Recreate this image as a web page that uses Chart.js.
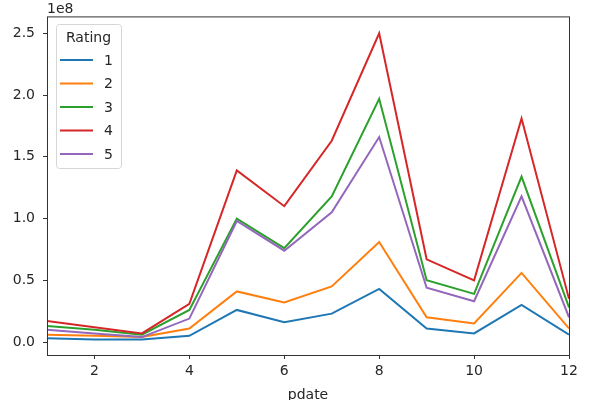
<!DOCTYPE html>
<html>
<head>
<meta charset="utf-8">
<script src="https://cdn.jsdelivr.net/npm/chart.js@4"></script>
<style>
  body { margin: 0; background: #fff; }
  #wrap { width: 600px; height: 400px; }
</style>
</head>
<body>
<div id="wrap"><canvas id="grafica" width="600" height="400"></canvas></div>
<script>
// valores en unidades de 1e8
const pdate = [1, 2, 3, 4, 5, 6, 7, 8, 9, 10, 11, 12];
const rating1 = [0.03, 0.02, 0.02, 0.05, 0.26, 0.16, 0.23, 0.43, 0.11, 0.07, 0.30, 0.06];
const rating2 = [0.06, 0.05, 0.04, 0.11, 0.41, 0.32, 0.45, 0.81, 0.20, 0.15, 0.56, 0.11];
const rating3 = [0.13, 0.10, 0.06, 0.26, 1.00, 0.76, 1.18, 1.97, 0.50, 0.39, 1.34, 0.28];
const rating4 = [0.17, 0.12, 0.07, 0.31, 1.39, 1.10, 1.63, 2.50, 0.67, 0.50, 1.81, 0.35];
const rating5 = [0.10, 0.07, 0.04, 0.19, 0.98, 0.74, 1.05, 1.66, 0.44, 0.33, 1.18, 0.20];
const seriesNames = ['1', '2', '3', '4', '5'];
const xTicks = [2, 4, 6, 8, 10, 12];
const yTicks = [0, 0.5, 1.0, 1.5, 2.0, 2.5];

const colores = ['#1f77b4', '#ff7f0e', '#2ca02c', '#d62728', '#9467bd'];
const todas = [rating1, rating2, rating3, rating4, rating5];
const fuente = 'DejaVu Sans';

const datasets = todas.map(function (serie, i) {
    return {
        label: seriesNames[i],
        data: serie.map(function (v, j) { return { x: pdate[j], y: v }; }),
        borderColor: colores[i],
        borderWidth: 2,
        pointRadius: 0,
        tension: 0,
        fill: false,
        order: todas.length - i
    };
});

// marco, leyenda, offset y etiqueta del eje x
const extras = {
    id: 'extras',
    afterDraw: function (chart) {
        const c = chart.ctx;
        const a = chart.chartArea;
        c.save();
        c.strokeStyle = '#333';
        c.lineWidth = 1;
        c.strokeRect(a.left + 0.5, a.top + 0.5, a.right - a.left, a.bottom - a.top);

        c.fillStyle = '#262626';
        c.font = '14px "' + fuente + '"';
        c.textAlign = 'left';
        c.textBaseline = 'alphabetic';
        c.fillText('1e8', a.left, a.top - 3);

        c.textAlign = 'center';
        c.textBaseline = 'middle';
        c.fillText('pdate', (a.left + a.right) / 2, 395);

        // leyenda
        const lx = 56, ly = 24, lw = 65, lh = 144;
        c.fillStyle = 'rgba(255,255,255,0.8)';
        c.strokeStyle = '#d6d6d6';
        c.beginPath();
        c.roundRect(lx + 0.5, ly + 0.5, lw, lh, 3);
        c.fill();
        c.stroke();
        c.fillStyle = '#262626';
        c.fillText('Rating', lx + lw / 2, ly + 14);
        chart.data.datasets.forEach(function (ds, i) {
            const y = ly + 36 + i * 23.5;
            c.strokeStyle = ds.borderColor;
            c.lineWidth = 2;
            c.beginPath();
            c.moveTo(lx + 4, y);
            c.lineTo(lx + 37, y);
            c.stroke();
            c.fillStyle = '#262626';
            c.textAlign = 'left';
            c.fillText(ds.label, lx + 48, y + 1);
        });
        c.restore();
    }
};

const ctx = document.getElementById('grafica').getContext('2d');
const grafica = new Chart(ctx, {
    type: 'line',
    data: { datasets: datasets },
    plugins: [extras],
    options: {
        responsive: false,
        animation: false,
        layout: { padding: { top: 15, right: 31, left: 0, bottom: 0 } },
        plugins: { legend: { display: false }, tooltip: { enabled: false } },
        scales: {
            x: {
                type: 'linear',
                min: 1,
                max: 12,
                afterBuildTicks: function (s) { s.ticks = xTicks.map(function (v) { return { value: v }; }); },
                afterFit: function (s) { s.height = 45; },
                grid: { drawOnChartArea: false, drawTicks: true, tickLength: 4, color: '#333' },
                border: { display: false },
                ticks: { color: '#262626', font: { family: fuente, size: 14 }, padding: 4, maxRotation: 0 }
            },
            y: {
                type: 'linear',
                min: -0.105,
                max: 2.637,
                afterBuildTicks: function (s) { s.ticks = yTicks.map(function (v) { return { value: v }; }); },
                afterFit: function (s) { s.width = 47; },
                grid: { drawOnChartArea: false, drawTicks: true, tickLength: 4, color: '#333' },
                border: { display: false },
                ticks: {
                    color: '#262626',
                    font: { family: fuente, size: 14 },
                    padding: 8,
                    callback: function (v) { return v.toFixed(1); }
                }
            }
        }
    }
});
</script>
</body>
</html>
